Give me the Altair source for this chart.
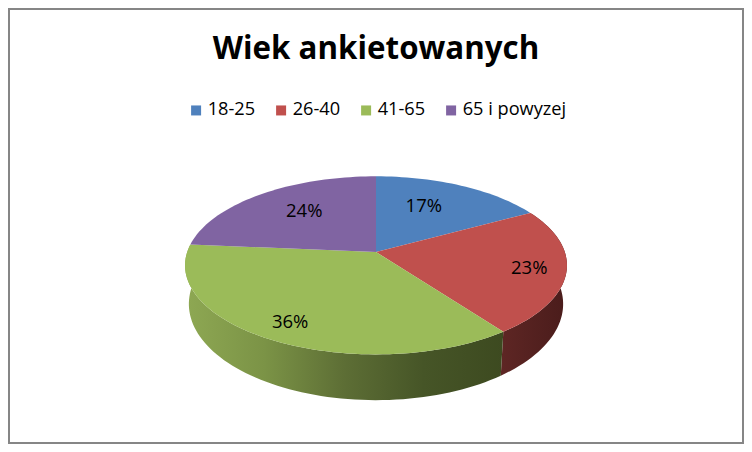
import math
import altair as alt

# Values
GROUPS = ["18-25", "26-40", "41-65", "65 i powyzej"]
SHARES = [17, 22.9, 36.49, 23.61]
COLORS = ["#4f81bd", "#c0504d", "#9bbb59", "#8064a2"]
TITLE = "Wiek ankietowanych"

# Layout of the tilted pie
K = 0.15            # perspective
M = 0.461           # vertical squash
LABEL_R = [0.637, 0.81, 0.824, 0.652]
LABEL_AT = [7.1, 28.6, 58.2, 89.2]
FONT = "Open Sans"
GREEN_SIDE = ["#8ea853", "#7b9346", "#5d6e35", "#465527", "#3d4a20"]
RED_SIDE = ["#5e2624", "#4a1c1b"]


def top_point(theta_pct, r=1.0):
    a = theta_pct / 100 * 2 * math.pi
    u, v = r * math.sin(a), -r * math.cos(a)
    d = 1 - K * v
    return [u / d, M * v / d]


def bottom_point(p):
    return [0.98 * p[0], 1.08 * (p[1] - 0.0704) + 0.275]


def arc(a, b):
    n = max(2, int(abs(b - a) * 2))
    return [a + (b - a) * i / n for i in range(n + 1)]


def feature(ring, group):
    return {
        "type": "Feature",
        "properties": {"group": group},
        "geometry": {"type": "Polygon", "coordinates": [ring + [ring[0]]]},
    }


starts = [sum(SHARES[:i]) for i in range(len(SHARES))]
ends = [s + v for s, v in zip(starts, SHARES)]

tops = []
for s, e, g in zip(starts, ends, GROUPS):
    ring = [[0.0, 0.0]] + [top_point(t) for t in arc(s, e)]
    tops.append(feature(ring, g))


def side(i):
    rim = [top_point(t) for t in arc(starts[i], ends[i])]
    return feature(rim + [bottom_point(p) for p in reversed(rim)], GROUPS[i])


labels = []
for v, at, r in zip(SHARES, LABEL_AT, LABEL_R):
    x, y = top_point(at, r)
    labels.append({"lon": x, "lat": y, "text": f"{round(v)}%"})

proj = alt.Projection(type="identity", scale=188.8, translate=[368, 244])


def gradient(colors):
    n = len(colors) - 1
    return alt.LinearGradient(
        gradient="linear", x1=0, x2=1, y1=0, y2=0,
        stops=[alt.GradientStop(color=c, offset=i / n) for i, c in enumerate(colors)],
    )


red_side = (
    alt.Chart(alt.Data(values=[side(1)]))
    .mark_geoshape(fill=gradient(RED_SIDE), strokeWidth=0)
    .project(**proj.to_dict())
)
green_side = (
    alt.Chart(alt.Data(values=[side(2)]))
    .mark_geoshape(fill=gradient(GREEN_SIDE), strokeWidth=0)
    .project(**proj.to_dict())
)
top = (
    alt.Chart(alt.Data(values=tops))
    .mark_geoshape(strokeWidth=0)
    .encode(
        color=alt.Color(
            "properties.group:N",
            scale=alt.Scale(domain=GROUPS, range=COLORS),
            legend=alt.Legend(
                title=None,
                orient="none",
                legendX=179,
                legendY=93,
                direction="horizontal",
                columns=4,
                columnPadding=16,
                symbolType="square",
                symbolSize=100,
                symbolStrokeWidth=0,
                labelFont=FONT,
                labelFontSize=18.2,
                labelColor="#000000",
                labelOffset=2.5,
            ),
        )
    )
    .project(**proj.to_dict())
)
text = (
    alt.Chart(alt.Data(values=labels))
    .mark_text(font=FONT, fontSize=18.5, color="#000000")
    .encode(longitude="lon:Q", latitude="lat:Q", text="text:N")
    .project(**proj.to_dict())
)

chart = alt.layer(red_side, green_side, top, text).properties(
    width=736,
    height=436,
    padding=0,
    autosize=alt.AutoSizeParams(type="none"),
    background="#ffffff",
    view=alt.ViewBackground(stroke="#868686", strokeWidth=4, fill="#ffffff"),
    title=alt.TitleParams(
        text=TITLE,
        font=FONT,
        fontSize=31.3,
        fontWeight="bold",
        color="#000000",
        anchor="middle",
        dy=57,
        offset=0,
    ),
)

chart.save("out.html", embed_options={"renderer": "svg", "actions": False})
